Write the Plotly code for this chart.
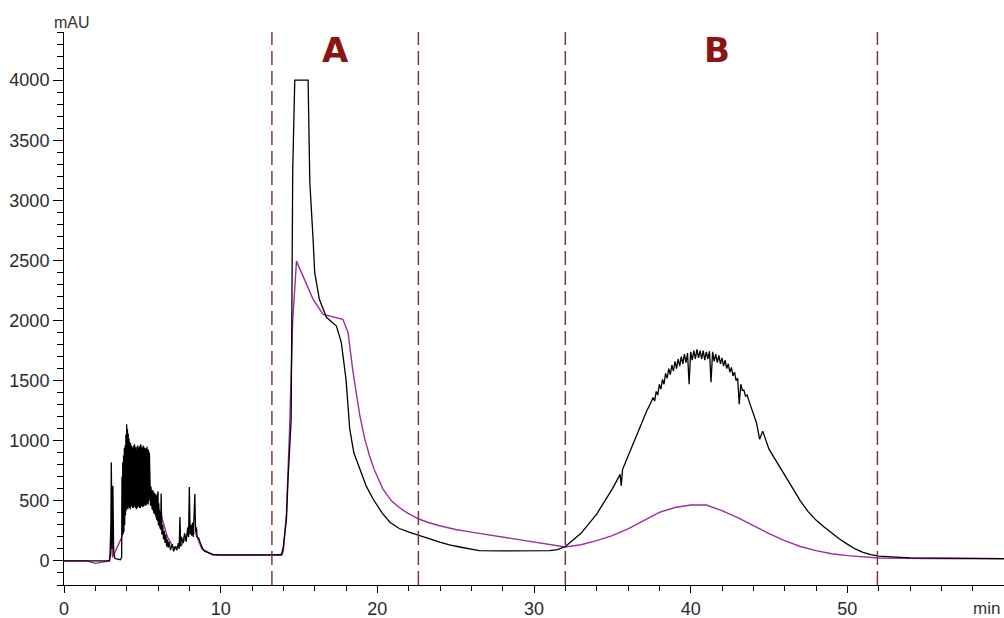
import plotly.graph_objects as go

# ---- Data ----
black_t = [0, 2.9, 2.98, 3.02, 3.07, 3.12, 3.17, 3.25, 3.6, 3.68,
           3.700, 3.725, 3.750, 3.775, 3.800, 3.825, 3.850, 3.875, 3.900, 3.925,
           3.950, 3.975, 4.000, 4.025, 4.050, 4.075, 4.100, 4.125, 4.150, 4.175,
           4.200, 4.225, 4.250, 4.275, 4.300, 4.325, 4.350, 4.375, 4.400, 4.425,
           4.450, 4.475, 4.500, 4.525, 4.550, 4.575, 4.600, 4.625, 4.650, 4.675,
           4.700, 4.725, 4.750, 4.775, 4.800, 4.825, 4.850, 4.875, 4.900, 4.925,
           4.950, 4.975, 5.000, 5.025, 5.050, 5.075, 5.100, 5.125, 5.150, 5.175,
           5.200, 5.225, 5.250, 5.275, 5.300, 5.325, 5.350, 5.375, 5.400, 5.425,
           5.450, 5.475, 5.500, 5.525, 5.550, 5.575, 5.600, 5.625, 5.650, 5.675,
           5.700, 5.725, 5.750, 5.775, 5.800, 5.825, 5.850, 5.875, 5.900, 5.925,
           5.950, 5.975, 6.000, 6.025, 6.050, 6.075, 6.100, 6.125, 6.150, 6.175,
           6.20, 6.25, 6.30, 6.35, 6.40, 6.45, 6.50, 6.55, 6.60, 6.65,
           6.70, 6.80, 6.90, 7.00, 7.10, 7.20, 7.30, 7.35, 7.40, 7.45,
           7.50, 7.60, 7.70, 7.80, 7.90, 7.95, 8.00, 8.05, 8.10, 8.15,
           8.20, 8.25, 8.30, 8.35, 8.40, 8.45, 8.50, 8.60, 8.70, 8.80,
           8.90, 9.00, 9.20, 9.50, 10.0, 11.0, 12.0, 13.0, 13.8, 13.9,
           14.0, 14.1, 14.2, 14.3, 14.4, 14.5, 14.6, 14.73, 15.58, 15.69,
           15.9, 16.0, 16.3, 16.75, 17.39, 17.7, 18.0, 18.24, 18.5, 18.88,
           19.3, 19.73, 20.3, 20.8, 21.4, 22.07, 22.64, 23.3, 23.98, 24.6,
           25.26, 25.9, 26.5, 28.0, 29.0, 30.0, 31.0, 31.5, 32.0, 33.0,
           34.0, 35.0, 35.5, 35.57, 35.65, 36.0, 36.5, 37.0, 37.2, 37.4,
           37.6, 37.7, 37.8, 37.9, 38.0, 38.1, 38.2, 38.3, 38.4, 38.5,
           38.6, 38.7, 38.8, 38.9, 39.0, 39.1, 39.2, 39.3, 39.4, 39.5,
           39.6, 39.7, 39.8, 39.9, 40.0, 40.1, 40.2, 40.3, 40.4, 40.5,
           40.6, 40.7, 40.8, 40.9, 41.0, 41.1, 41.2, 41.3, 41.4, 41.5,
           41.6, 41.7, 41.8, 41.9, 42.0, 42.1, 42.2, 42.3, 42.4, 42.5,
           42.6, 42.7, 42.8, 42.9, 43.0, 43.1, 43.2, 43.3, 43.4, 43.5,
           43.6, 43.8, 44.0, 44.2, 44.4, 44.6,
           45.0, 45.5, 46.0, 46.5, 47.0, 47.5, 48.0, 48.5, 49.0, 49.5,
           50.0, 50.5, 51.0, 51.5, 52.0, 53.0, 54.0, 56.0, 58.0, 60.0]
black_v = [0, 0, 60, 820, 100, 625, 80, 20, 10, 30,
           700, 260, 820, 220, 880, 240, 940, 300, 960, 380,
           1050, 420, 1138, 440, 1100, 430, 1060, 450, 1020, 440,
           990, 430, 980, 450, 960, 460, 950, 440, 940, 440,
           960, 450, 970, 450, 950, 440, 930, 430, 950, 440,
           960, 450, 940, 450, 950, 440, 960, 440, 970, 460,
           950, 450, 940, 450, 960, 450, 950, 470, 940, 460,
           930, 460, 940, 470, 950, 480, 930, 470, 920, 500,
           900, 500, 640, 460, 620, 450, 600, 430, 590, 420,
           580, 400, 570, 390, 560, 380, 550, 360, 540, 340,
           560, 330, 580, 300, 480, 290, 420, 270, 400, 260,
           560, 220, 300, 180, 250, 150, 220, 120, 180, 110,
           160, 90, 140, 80, 120, 90, 150, 100, 365, 120,
           200, 150, 230, 160, 280, 200, 615, 220, 300, 210,
           320, 200, 350, 556, 240, 280, 200, 190, 150, 110,
           90, 80, 70, 55, 50, 48, 50, 50, 52, 60,
           120, 220, 350, 680, 950, 1180, 3250, 4000, 4000, 3150,
           2675, 2400, 2176, 2027, 1954, 1818, 1512, 1096, 900, 764,
           620, 515, 400, 322, 270, 238, 216, 185, 156, 133,
           116, 98, 86, 84, 84, 84, 86, 95, 120, 230,
           390, 600, 720, 625, 760, 870, 1030, 1190, 1250, 1300,
           1360, 1330, 1410, 1380, 1470, 1430, 1510, 1470, 1560, 1520,
           1600, 1550, 1630, 1580, 1660, 1600, 1680, 1620, 1700, 1640,
           1720, 1650, 1730, 1470, 1740, 1670, 1750, 1680, 1760, 1690,
           1750, 1680, 1750, 1670, 1740, 1680, 1745, 1487, 1740, 1660,
           1720, 1650, 1710, 1640, 1690, 1620, 1670, 1600, 1640, 1570,
           1610, 1540, 1570, 1500, 1520, 1304, 1470, 1420, 1420, 1370,
           1380, 1300, 1220, 1150, 1013, 1080,
           930, 820, 720, 610, 500, 410, 340, 285, 230, 183,
           140, 100, 72, 52, 40, 30, 26, 24, 22, 20]

magenta_t = [0, 1.5, 2.0, 2.5, 2.9, 3.0, 3.1, 3.7, 4.0, 4.5,
             5.0, 5.5, 5.8, 6.2, 6.6, 7.0, 7.5, 8.0, 8.4, 8.8,
             9.5, 10.0, 13.9, 14.0, 14.2, 14.4, 14.6, 14.84, 15.26, 15.9,
             16.54, 17.2, 17.8, 18.13, 18.45, 18.88, 19.2, 19.5, 19.8, 20.36,
             20.9, 21.4, 21.85, 22.64, 23.3, 23.98, 25.0, 26.1, 27.2, 28.23,
             29.3, 30.36, 31.0, 31.6, 32.0, 33.0, 34.0, 35.0, 36.0, 37.0,
             38.0, 39.0, 40.0, 41.0, 42.0, 43.0, 44.0, 45.0, 46.0, 47.0,
             48.0, 49.0, 50.0, 51.0, 52.0, 55.0, 60.0]
magenta_v = [0, 0, -20, -10, 0, 300, 30, 200, 600, 600,
             620, 600, 520, 380, 200, 110, 130, 250, 230, 100,
             50, 48, 48, 80, 400, 1100, 2000, 2494, 2370, 2176,
             2051, 2030, 2010, 1900, 1570, 1210, 1013, 875, 760, 598,
             500, 445, 404, 349, 318, 293, 262, 238, 215, 197,
             176, 155, 140, 127, 116, 135, 169, 210, 266, 335,
             404, 445, 465, 465, 418, 360, 294, 228, 169, 120,
             86, 60, 44, 32, 25, 20, 18]

fraction_edges = [13.27, 22.62, 32.0, 51.92]
region_labels = ["A", "B"]
region_label_x = [17.3, 41.7]
region_label_y = [4250, 4250]

x_tick_vals = [0, 10, 20, 30, 40, 50]
y_tick_vals = [0, 500, 1000, 1500, 2000, 2500, 3000, 3500, 4000]

fig = go.Figure()
fig.add_trace(go.Scatter(x=magenta_t, y=magenta_v, mode="lines",
                         line=dict(color="#9a2f9a", width=1.4), showlegend=False))
fig.add_trace(go.Scatter(x=black_t, y=black_v, mode="lines",
                         line=dict(color="#000000", width=1.3), showlegend=False))

for xe in fraction_edges:
    fig.add_shape(type="line", x0=xe, x1=xe, xref="x", y0=0, y1=1, yref="paper",
                  line=dict(color="#7a3a3a", width=1.5, dash="14px,6px"))

for lab, lx, ly in zip(region_labels, region_label_x, region_label_y):
    fig.add_annotation(x=lx, y=ly, text="<b>%s</b>" % lab, showarrow=False,
                       font=dict(family="DejaVu Sans", size=34, color="#8b1414"))

fig.add_annotation(x=0, xref="paper", y=1, yref="paper", text="mAU", showarrow=False,
                   xanchor="center", yanchor="bottom", xshift=8, yshift=-1,
                   font=dict(family="Liberation Sans", size=16, color="#333333"))
fig.add_annotation(x=1, xref="paper", y=0, yref="paper", text="min", showarrow=False,
                   xanchor="right", yanchor="top", xshift=-2, yshift=-12,
                   font=dict(family="Liberation Sans", size=17, color="#333333"))

fig.update_layout(
    width=1004, height=618,
    margin=dict(l=64, r=0, t=32, b=33),
    paper_bgcolor="white", plot_bgcolor="white",
    font=dict(family="Liberation Sans", size=18, color="#2a2a2a"),
    xaxis=dict(range=[0, 60], tickvals=x_tick_vals, showline=True, linecolor="black",
               linewidth=1, ticks="outside", ticklen=7, tickcolor="black",
               showgrid=False, zeroline=False,
               minor=dict(dtick=2, tick0=0, ticks="outside", ticklen=5, tickcolor="black", showgrid=False)),
    yaxis=dict(range=[-200, 4400], tickvals=y_tick_vals, showline=True, linecolor="black",
               linewidth=1, ticks="outside", ticklen=10, tickcolor="black",
               showgrid=False, zeroline=False,
               minor=dict(dtick=100, tick0=0, ticks="outside", ticklen=6, tickcolor="black", showgrid=False)),
)

fig.write_html("out.html")
